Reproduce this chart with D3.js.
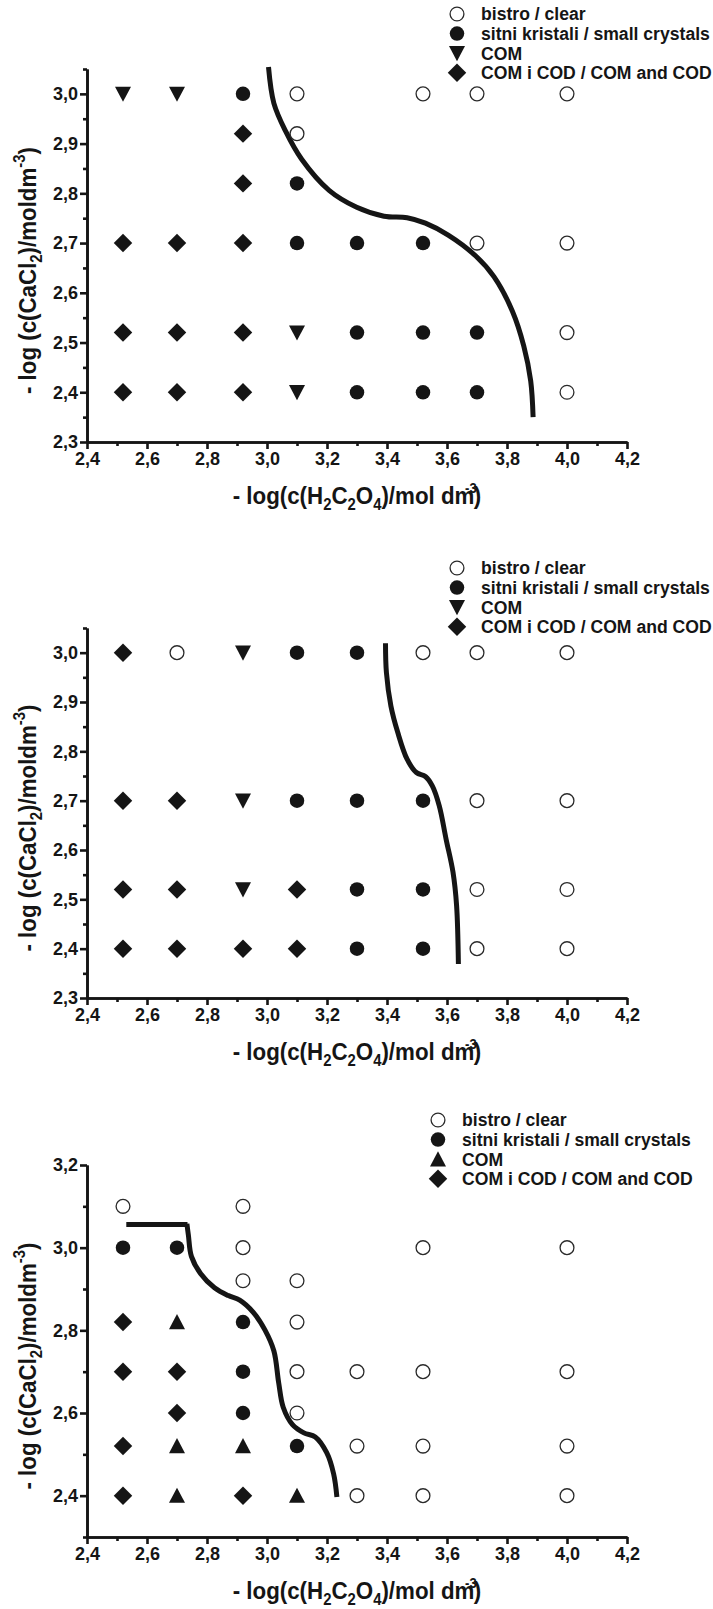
<!DOCTYPE html>
<html>
<head>
<meta charset="utf-8">
<script src="https://cdn.jsdelivr.net/npm/d3@7"></script>
<style>
  body { margin: 0; background: #fff; }
  svg text { font-family: "Liberation Sans", Arial, sans-serif; font-weight: bold; fill: #151515; }
</style>
</head>
<body>
<div id="chart"></div>
<script>

// 1. Data

const legendLabels = ["bistro / clear", "sitni kristali / small crystals", "COM", "COM i COD / COM and COD"]

const xTicks = [2.4, 2.6, 2.8, 3.0, 3.2, 3.4, 3.6, 3.8, 4.0, 4.2]
const xMinorTicks = [2.5, 2.7, 2.9, 3.1, 3.3, 3.5, 3.7, 3.9, 4.1]
const yTicksA = [2.3, 2.4, 2.5, 2.6, 2.7, 2.8, 2.9, 3.0]
const yMinorTicksA = [2.35, 2.45, 2.55, 2.65, 2.75, 2.85, 2.95, 3.05]
const yTicksB = [2.4, 2.6, 2.8, 3.0, 3.2]
const yMinorTicksB = [2.3, 2.5, 2.7, 2.9, 3.1]

// panel 1
const p1Clear = [[3.10, 3.00], [3.52, 3.00], [3.70, 3.00], [4.00, 3.00], [3.10, 2.92], [3.70, 2.70], [4.00, 2.70], [4.00, 2.52], [4.00, 2.40]]
const p1Small = [[2.92, 3.00], [3.10, 2.82], [3.10, 2.70], [3.30, 2.70], [3.52, 2.70], [3.30, 2.52], [3.52, 2.52], [3.70, 2.52], [3.30, 2.40], [3.52, 2.40], [3.70, 2.40]]
const p1Com = [[2.52, 3.00], [2.70, 3.00], [3.10, 2.52], [3.10, 2.40]]
const p1ComCod = [[2.92, 2.92], [2.92, 2.82], [2.52, 2.70], [2.70, 2.70], [2.92, 2.70], [2.52, 2.52], [2.70, 2.52], [2.92, 2.52], [2.52, 2.40], [2.70, 2.40], [2.92, 2.40]]
const p1Border = [[3.005, 3.054], [3.023, 2.981], [3.062, 2.925], [3.115, 2.869], [3.207, 2.806], [3.299, 2.772], [3.390, 2.754], [3.467, 2.751], [3.528, 2.740], [3.604, 2.716], [3.696, 2.674], [3.757, 2.632], [3.818, 2.563], [3.856, 2.493], [3.879, 2.423], [3.887, 2.350]]

// panel 2
const p2Clear = [[2.70, 3.00], [3.52, 3.00], [3.70, 3.00], [4.00, 3.00], [3.70, 2.70], [4.00, 2.70], [3.70, 2.52], [4.00, 2.52], [3.70, 2.40], [4.00, 2.40]]
const p2Small = [[3.10, 3.00], [3.30, 3.00], [3.10, 2.70], [3.30, 2.70], [3.52, 2.70], [3.30, 2.52], [3.52, 2.52], [3.30, 2.40], [3.52, 2.40]]
const p2Com = [[2.92, 3.00], [2.92, 2.70], [2.92, 2.52]]
const p2ComCod = [[2.52, 3.00], [2.52, 2.70], [2.70, 2.70], [2.52, 2.52], [2.70, 2.52], [3.10, 2.52], [2.52, 2.40], [2.70, 2.40], [2.92, 2.40], [3.10, 2.40]]
const p2Border = [[3.395, 3.019], [3.398, 2.960], [3.413, 2.892], [3.436, 2.838], [3.467, 2.784], [3.498, 2.757], [3.528, 2.749], [3.551, 2.730], [3.574, 2.690], [3.597, 2.622], [3.620, 2.555], [3.632, 2.487], [3.638, 2.369]]

// panel 3 (the boundary starts with a straight shelf, then bends down)
const p3Clear = [[2.52, 3.10], [2.92, 3.10], [2.92, 3.00], [3.52, 3.00], [4.00, 3.00], [2.92, 2.92], [3.10, 2.92], [3.10, 2.82], [3.10, 2.70], [3.30, 2.70], [3.52, 2.70], [4.00, 2.70], [3.10, 2.60], [3.30, 2.52], [3.52, 2.52], [4.00, 2.52], [3.30, 2.40], [3.52, 2.40], [4.00, 2.40]]
const p3Small = [[2.52, 3.00], [2.70, 3.00], [2.92, 2.82], [2.92, 2.70], [2.92, 2.60], [3.10, 2.52]]
const p3Com = [[2.70, 2.82], [2.70, 2.52], [2.92, 2.52], [2.70, 2.40], [3.10, 2.40]]
const p3ComCod = [[2.52, 2.82], [2.52, 2.70], [2.70, 2.70], [2.70, 2.60], [2.52, 2.52], [2.52, 2.40], [2.92, 2.40]]
const p3Shelf = [[2.531, 3.056], [2.735, 3.056]]
const p3Border = [[2.733, 3.058], [2.738, 3.030], [2.748, 2.979], [2.779, 2.937], [2.825, 2.903], [2.871, 2.884], [2.909, 2.873], [2.955, 2.843], [2.993, 2.801], [3.023, 2.750], [3.039, 2.673], [3.054, 2.614], [3.085, 2.572], [3.123, 2.552], [3.161, 2.542], [3.199, 2.504], [3.222, 2.453], [3.233, 2.397]]

// 2. Custom marker shapes for d3.symbol

const triangleDown = {
  draw(context, size) {
    const s = Math.sqrt(size)
    context.moveTo(-s / 2, -s * 0.45)
    context.lineTo(s / 2, -s * 0.45)
    context.lineTo(0, s * 0.5)
    context.closePath()
  }
}
const triangleUp = {
  draw(context, size) {
    const s = Math.sqrt(size)
    context.moveTo(-s / 2, s * 0.45)
    context.lineTo(s / 2, s * 0.45)
    context.lineTo(0, -s * 0.5)
    context.closePath()
  }
}
const diamond = {
  draw(context, size) {
    const r = Math.sqrt(size) / 2
    context.moveTo(0, -r)
    context.lineTo(r, 0)
    context.lineTo(0, r)
    context.lineTo(-r, 0)
    context.closePath()
  }
}

// 3. Panel settings (positions in the 713 x 1609 page)

const panels = [
  { top: 69, bottom: 442, yDomain: [2.3, 3.05], yTicks: yTicksA, yMinor: yMinorTicksA,
    legendX: 457, legendY: 14, com: triangleDown,
    clear: p1Clear, small: p1Small, comPts: p1Com, comCod: p1ComCod, border: [p1Border] },
  { top: 628, bottom: 998, yDomain: [2.3, 3.05], yTicks: yTicksA, yMinor: yMinorTicksA,
    legendX: 457, legendY: 568, com: triangleDown,
    clear: p2Clear, small: p2Small, comPts: p2Com, comCod: p2ComCod, border: [p2Border] },
  { top: 1165, bottom: 1537, yDomain: [2.3, 3.2], yTicks: yTicksB, yMinor: yMinorTicksB,
    legendX: 438, legendY: 1120, com: triangleUp,
    clear: p3Clear, small: p3Small, comPts: p3Com, comCod: p3ComCod, border: [p3Shelf, p3Border] },
]

const left = 87
const right = 627
const ink = "#151515"
const fmt = d => d3.format(".1f")(d).replace(".", ",")

const svg = d3.select("#chart")
  .append("svg")
    .attr("width", 713)
    .attr("height", 1609)

const xScale = d3.scaleLinear()
  .domain([2.4, 4.2])
  .range([left, right])

function drawPanel(p) {

  const g = svg.append("g")

  const yScale = d3.scaleLinear()
    .domain(p.yDomain)
    .range([p.bottom, p.top])

  // axes: minor ticks first, then labelled ticks
  const styleAxis = a => {
    a.selectAll("path, line").attr("stroke", ink).attr("stroke-width", 2.6)
    a.selectAll("text")
      .attr("font-size", 18)
      .attr("font-family", '"Liberation Sans", Arial, sans-serif')
      .attr("font-weight", "bold")
      .attr("fill", ink)
  }

  g.append("g")
    .attr("transform", `translate(0,${p.bottom})`)
    .call(d3.axisBottom(xScale).tickValues(xMinorTicks).tickSize(4).tickSizeOuter(0).tickFormat(""))
    .call(styleAxis)
  g.append("g")
    .attr("transform", `translate(0,${p.bottom})`)
    .call(d3.axisBottom(xScale).tickValues(xTicks).tickSize(7).tickSizeOuter(0).tickPadding(3).tickFormat(fmt))
    .call(styleAxis)

  g.append("g")
    .attr("transform", `translate(${left},0)`)
    .call(d3.axisLeft(yScale).tickValues(p.yMinor).tickSize(4).tickSizeOuter(0).tickFormat(""))
    .call(styleAxis)
  g.append("g")
    .attr("transform", `translate(${left},0)`)
    .call(d3.axisLeft(yScale).tickValues(p.yTicks).tickSize(7).tickSizeOuter(0).tickPadding(2).tickFormat(fmt))
    .call(styleAxis)

  // axis titles
  const xt = g.append("text")
    .attr("transform", `translate(${(left + right) / 2},${p.bottom + 62}) scale(0.93,1)`)
    .attr("text-anchor", "middle")
    .attr("font-size", 24)
  xt.append("tspan").text("- log(c(H")
  xt.append("tspan").attr("font-size", 16).attr("dy", 6).text("2")
  xt.append("tspan").attr("dy", -6).text("C")
  xt.append("tspan").attr("font-size", 16).attr("dy", 6).text("2")
  xt.append("tspan").attr("dy", -6).text("O")
  xt.append("tspan").attr("font-size", 16).attr("dy", 6).text("4")
  xt.append("tspan").attr("dy", -6).text(")/mol dm")
  xt.append("tspan").attr("font-size", 14).attr("dx", -10).attr("dy", -11).text("-3")
  xt.append("tspan").attr("dx", -3).attr("dy", 11).text(")")

  const yt = g.append("text")
    .attr("transform", `translate(36,${(p.top + p.bottom) / 2 + 15}) rotate(-90) scale(0.93,1)`)
    .attr("text-anchor", "middle")
    .attr("font-size", 24)
  yt.append("tspan").text("- log (c(CaCl")
  yt.append("tspan").attr("font-size", 16).attr("dy", 6).text("2")
  yt.append("tspan").attr("dy", -6).text(")/moldm")
  yt.append("tspan").attr("font-size", 16).attr("dy", -11).text("-3")
  yt.append("tspan").attr("dy", 11).text(")")

  // boundary curve
  const line = d3.line()
    .x(d => xScale(d[0]))
    .y(d => yScale(d[1]))
    .curve(d3.curveCatmullRom.alpha(0.5))

  g.selectAll("path.border")
    .data(p.border)
    .join("path")
      .attr("class", "border")
      .attr("d", line)
      .attr("fill", "none")
      .attr("stroke", ink)
      .attr("stroke-width", 5)

  // data points
  const series = [
    { pts: p.clear, type: d3.symbolCircle, size: 150, fill: "#fff", stroke: "#2a2a2a" },
    { pts: p.small, type: d3.symbolCircle, size: 165, fill: ink, stroke: "none" },
    { pts: p.comPts, type: p.com, size: 256, fill: ink, stroke: "none" },
    { pts: p.comCod, type: diamond, size: 340, fill: ink, stroke: "none" },
  ]

  series.forEach(s => {
    g.append("g").selectAll("path")
      .data(s.pts)
      .join("path")
        .attr("transform", d => `translate(${xScale(d[0])},${yScale(d[1])})`)
        .attr("d", d3.symbol().type(s.type).size(s.size))
        .attr("fill", s.fill)
        .attr("stroke", s.stroke)
        .attr("stroke-width", 1.3)
  })

  // legend
  const legend = g.append("g")
  series.forEach((s, i) => {
    const ly = p.legendY + i * 19.6
    legend.append("path")
      .attr("transform", `translate(${p.legendX},${ly})`)
      .attr("d", d3.symbol().type(s.type).size(s.size))
      .attr("fill", s.fill)
      .attr("stroke", s.stroke)
      .attr("stroke-width", 1.3)
    legend.append("text")
      .attr("x", p.legendX + 24)
      .attr("y", ly)
      .attr("dy", "0.36em")
      .attr("font-size", 17.6)
      .text(legendLabels[i])
  })
}

panels.forEach(drawPanel)

</script>
</body>
</html>
